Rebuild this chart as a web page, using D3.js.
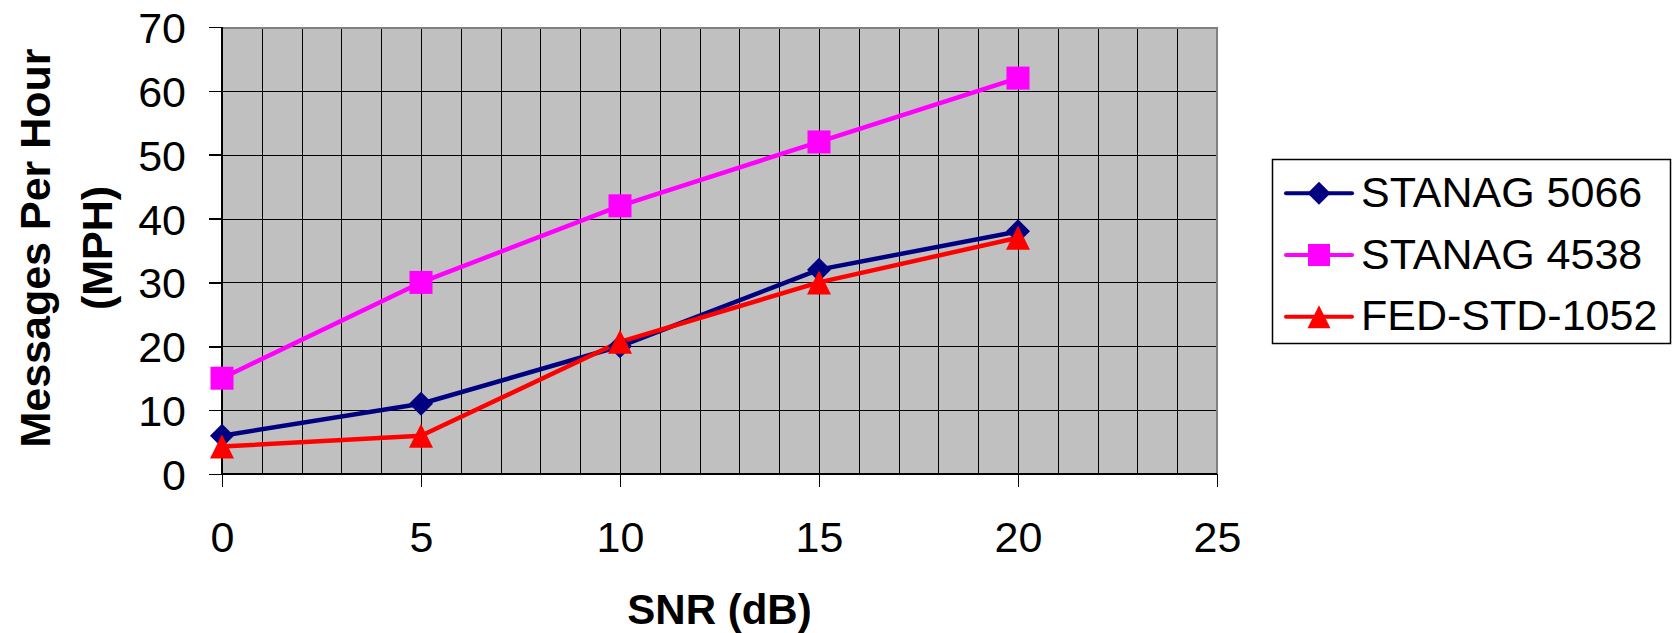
<!DOCTYPE html>
<html>
<head>
<meta charset="utf-8">
<script src="https://cdn.jsdelivr.net/npm/d3@7"></script>
<style>
  html, body { margin: 0; padding: 0; background: #fff; }
  svg { display: block; font-family: "Liberation Sans", Arial, sans-serif; }
</style>
</head>
<body>
<svg id="chart" width="1675" height="633"></svg>
<script>
const snr = [0, 5, 10, 15, 20];
const seriesNames = ["STANAG 5066", "STANAG 4538", "FED-STD-1052"];
const stanag5066 = [6, 11, 20, 32, 38];
const stanag4538 = [15, 30, 42, 52, 62];
const fedStd1052 = [4.3, 6, 20.7, 30, 37];
const xTicks = [0, 5, 10, 15, 20, 25];
const yTicks = [0, 10, 20, 30, 40, 50, 60, 70];
const xTitle = "SNR (dB)";
const yTitleLines = ["Messages Per Hour", "(MPH)"];

const colors = ["#000080", "#FF00FF", "#FF0000"];

// Excel-like marker shapes (size = full width in px)
const excelDiamond = { draw(ctx, s) { const h = s / 2; ctx.moveTo(0, -h); ctx.lineTo(h, 0); ctx.lineTo(0, h); ctx.lineTo(-h, 0); ctx.closePath(); } };
const excelSquare = { draw(ctx, s) { const h = s / 2; ctx.rect(-h, -h, s, s); } };
const excelTriangle = { draw(ctx, s) { const h = s / 2; ctx.moveTo(0, -h); ctx.lineTo(h, h); ctx.lineTo(-h, h); ctx.closePath(); } };
const symbols = [excelDiamond, excelSquare, excelTriangle];
const symbolSizes = [24, 23, 24];

const series = [stanag5066, stanag4538, fedStd1052].map((vals, i) => ({
  name: seriesNames[i], color: colors[i], symbol: symbols[i], size: symbolSizes[i],
  points: vals.map((v, j) => ({ x: snr[j], y: v }))
}));

const svg = d3.select("#chart");
const L = 222, R = 1217, T = 27, B = 474;
const x = d3.scaleLinear().domain([0, 25]).range([L, R]);
const y = d3.scaleLinear().domain([0, 70]).range([B, T]);

// plot background
svg.append("rect").attr("x", L).attr("y", T).attr("width", R - L).attr("height", B - T)
  .attr("fill", "#C0C0C0");

// gridlines
const g = svg.append("g").attr("shape-rendering", "crispEdges");
g.selectAll(".vg").data(d3.range(1, 25)).join("line")
  .attr("x1", d => Math.round(x(d)) + 0.5).attr("x2", d => Math.round(x(d)) + 0.5)
  .attr("y1", T).attr("y2", B).attr("stroke", "#000").attr("stroke-width", 1);
g.selectAll(".hg").data(yTicks.filter(v => v > 0 && v < 70)).join("line")
  .attr("x1", L).attr("x2", R)
  .attr("y1", d => Math.round(y(d)) + 0.5).attr("y2", d => Math.round(y(d)) + 0.5)
  .attr("stroke", "#000").attr("stroke-width", 1);

// border top/right gray
g.append("path").attr("d", `M${L},${T + 0.5}H${R - 0.5}V${B}`)
  .attr("fill", "none").attr("stroke", "#808080").attr("stroke-width", 2);

// axes
const yAxis = d3.axisLeft(y).tickValues(yTicks).tickSize(13).tickPadding(23).tickFormat(d3.format("d"));
const xAxis = d3.axisBottom(x).tickValues(xTicks).tickSize(13).tickPadding(34).tickFormat(d3.format("d"));

const ya = svg.append("g").attr("transform", `translate(${L},0)`).call(yAxis);
const xa = svg.append("g").attr("transform", `translate(0,${B})`).call(xAxis);
[ya, xa].forEach(a => {
  a.attr("shape-rendering", "crispEdges");
  a.select(".domain").attr("stroke", "#000").attr("stroke-width", 2);
  a.selectAll(".tick line").attr("stroke", "#000").attr("stroke-width", 1.5);
  a.selectAll("text").attr("font-size", 43).attr("fill", "#000")
    .attr("font-family", "'Liberation Sans', Arial, sans-serif");
});
ya.select(".domain").attr("d", `M0,${B}V${T}`);
xa.select(".domain").attr("d", `M${L},0H${R}`);
ya.selectAll(".tick text").attr("dy", "0.36em");
xa.selectAll(".tick text").attr("dy", "0.72em");

// lines and markers
const line = d3.line().x(d => x(d.x)).y(d => y(d.y));
series.forEach(s => {
  svg.append("path").datum(s.points).attr("d", line)
    .attr("fill", "none").attr("stroke", s.color).attr("stroke-width", 4.5)
    .attr("stroke-linejoin", "round");
});
series.forEach(s => {
  svg.append("g").selectAll("path").data(s.points).join("path")
    .attr("transform", d => `translate(${x(d.x)},${y(d.y)})`)
    .attr("d", d3.symbol(s.symbol, s.size))
    .attr("fill", s.color);
});

// axis titles
svg.append("text").attr("x", (L + R) / 2).attr("y", 624)
  .attr("text-anchor", "middle").attr("font-size", 42).attr("font-weight", "bold")
  .text(xTitle);
yTitleLines.forEach((t, i) => {
  svg.append("text")
    .attr("transform", `translate(${[50, 112][i]},248) rotate(-90)`)
    .attr("text-anchor", "middle").attr("font-size", 43).attr("font-weight", "bold")
    .text(t);
});

// legend
const lg = svg.append("g");
lg.append("rect").attr("x", 1272.5).attr("y", 159.5).attr("width", 398).attr("height", 184)
  .attr("fill", "#fff").attr("stroke", "#000").attr("stroke-width", 1.5);
series.forEach((s, i) => {
  const cy = 193.3 + i * 61.7;
  lg.append("line").attr("x1", 1286).attr("x2", 1352).attr("y1", cy).attr("y2", cy)
    .attr("stroke", s.color).attr("stroke-width", 4).attr("stroke-linecap", "round");
  lg.append("path").attr("transform", `translate(1319,${cy})`)
    .attr("d", d3.symbol(s.symbol, s.size - 1)).attr("fill", s.color);
  lg.append("text").attr("x", 1361).attr("y", cy + 13.5)
    .attr("font-size", 43).attr("fill", "#000").text(s.name);
});
</script>
</body>
</html>
